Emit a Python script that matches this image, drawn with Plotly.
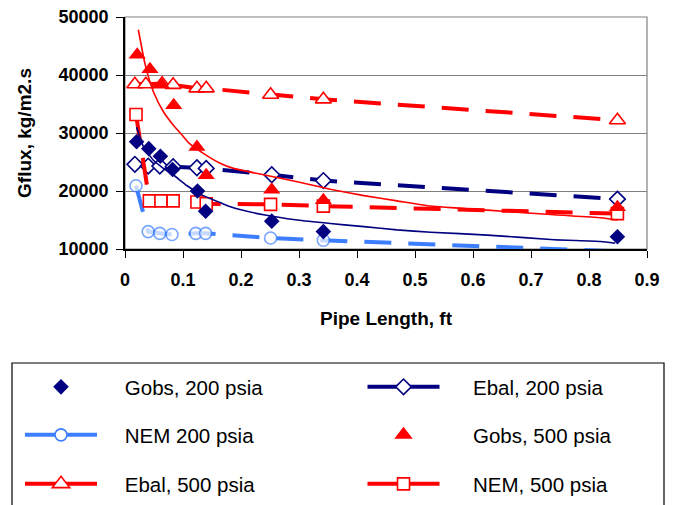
import plotly.graph_objects as go

# ---------------- data ----------------
x_gobs200 = [0.020, 0.041, 0.061, 0.082, 0.125, 0.139, 0.253, 0.342, 0.849]
y_gobs200 = [28500, 27300, 26000, 23700, 20000, 16500, 14800, 13000, 12100]

x_ebal200 = [0.017, 0.040, 0.060, 0.083, 0.124, 0.140, 0.253, 0.342, 0.849]
y_ebal200 = [24600, 24300, 24300, 24200, 24000, 23900, 22800, 21800, 18600]

x_nem200 = [0.019, 0.040, 0.060, 0.081, 0.122, 0.139, 0.251, 0.342, 0.849]
y_nem200 = [20900, 13000, 12700, 12500, 12700, 12700, 11900, 11500, 9600]

x_gobs500 = [0.021, 0.043, 0.063, 0.084, 0.124, 0.140, 0.253, 0.342, 0.849]
y_gobs500 = [43500, 41000, 38300, 34800, 27600, 22700, 20200, 18400, 17200]

x_ebal500 = [0.017, 0.036, 0.064, 0.083, 0.124, 0.140, 0.251, 0.342, 0.849]
y_ebal500 = [38400, 38400, 38500, 38300, 37700, 37700, 36600, 35800, 32200]

x_nem500 = [0.019, 0.042, 0.062, 0.083, 0.124, 0.140, 0.251, 0.342, 0.849]
y_nem500 = [33200, 18300, 18300, 18300, 18100, 17800, 17700, 17400, 16100]

# thin trend curves
x_trend500 = [0.023, 0.035, 0.049, 0.066, 0.083, 0.098, 0.110, 0.135, 0.164, 0.187,
              0.239, 0.297, 0.354, 0.412, 0.469, 0.527, 0.625, 0.740, 0.820, 0.849]
y_trend500 = [47800, 41700, 37100, 33700, 31400, 29700, 28300, 26500, 24800, 23900,
              22800, 21600, 20300, 19200, 18300, 17400, 16700, 15900, 15400, 15000]

x_trend200 = [0.020, 0.032, 0.049, 0.065, 0.083, 0.107, 0.135, 0.164, 0.187, 0.239,
              0.297, 0.354, 0.412, 0.469, 0.527, 0.625, 0.740, 0.820, 0.845]
y_trend200 = [31000, 27600, 25300, 24000, 22800, 20900, 19200, 18000, 17100, 15900,
              15000, 14400, 13850, 13300, 12900, 12400, 11600, 11300, 11000]

x_ticks = [0, 0.1, 0.2, 0.3, 0.4, 0.5, 0.6, 0.7, 0.8, 0.9]
y_ticks = [10000, 20000, 30000, 40000, 50000]

names = ["Gobs, 200 psia", "Ebal, 200 psia", "NEM 200 psia",
         "Gobs, 500 psia", "Ebal, 500 psia", "NEM, 500 psia"]

# ---------------- styles ----------------
NAVY = "#000080"
LBLUE = "#3D7EFF"
RED = "#FF0000"
DASH = "27px,17px"
FONT = "Liberation Sans, Arial, sans-serif"

fig = go.Figure()

# dashed model series
fig.add_trace(go.Scatter(x=x_ebal200, y=y_ebal200, mode="lines+markers", showlegend=False,
                         line=dict(color=NAVY, width=4, dash=DASH),
                         marker=dict(symbol="diamond", size=12, color="white",
                                     line=dict(color=NAVY, width=1.6))))
fig.add_trace(go.Scatter(x=x_nem200, y=y_nem200, mode="lines+markers", showlegend=False,
                         line=dict(color=LBLUE, width=4, dash=DASH),
                         marker=dict(symbol="circle", size=[12] * 8 + [0], color="white",
                                     line=dict(color=LBLUE, width=1.6))))
fig.add_trace(go.Scatter(x=x_ebal500, y=y_ebal500, mode="lines+markers", showlegend=False,
                         line=dict(color=RED, width=4, dash=DASH),
                         marker=dict(symbol="triangle-up", size=14, color="white",
                                     line=dict(color=RED, width=1.6))))
fig.add_trace(go.Scatter(x=x_nem500, y=y_nem500, mode="lines+markers", showlegend=False,
                         line=dict(color=RED, width=4, dash=DASH),
                         marker=dict(symbol="square", size=12, color="white",
                                     line=dict(color=RED, width=1.6))))
# observed
fig.add_trace(go.Scatter(x=x_gobs200, y=y_gobs200, mode="markers", showlegend=False,
                         marker=dict(symbol="diamond", size=12, color=NAVY)))
fig.add_trace(go.Scatter(x=x_gobs500, y=y_gobs500, mode="markers", showlegend=False,
                         marker=dict(symbol="triangle-up", size=15, color=RED)))
# trend curves
fig.add_trace(go.Scatter(x=x_trend200, y=y_trend200, mode="lines", showlegend=False,
                         line=dict(color=NAVY, width=1.6, shape="spline", smoothing=0.5)))
fig.add_trace(go.Scatter(x=x_trend500, y=y_trend500, mode="lines", showlegend=False,
                         line=dict(color=RED, width=1.6, shape="spline", smoothing=0.5)))

L, R, T, B = 125, 33, 17, 256
W, H = 680, 505
pw, ph = W - L - R, H - T - B


def px2x(px):
    return (px - L) / pw


def py2y(py):
    return (H - B - py) / ph


NB = "\u00a0"
# legend entries (solid samples as in the reference legend), one legend box per entry
legend_specs = [
    (names[0], "markers", NAVY, dict(symbol="diamond", size=12, color=NAVY), 0, 387),
    (names[1], "lines+markers", NAVY,
     dict(symbol="diamond", size=12, color="white", line=dict(color=NAVY, width=1.6)), 1, 387),
    (names[2], "lines+markers", LBLUE,
     dict(symbol="circle", size=12, color="white", line=dict(color=LBLUE, width=1.6)), 0, 435),
    (names[3], "markers", RED, dict(symbol="triangle-up", size=16, color=RED), 1, 435),
    (names[4], "lines+markers", RED,
     dict(symbol="triangle-up", size=15, color="white", line=dict(color=RED, width=1.6)), 0, 484),
    (names[5], "lines+markers", RED,
     dict(symbol="square", size=12, color="white", line=dict(color=RED, width=1.6)), 1, 484),
]
col_origin = [20, 362.5]
col_pad = [4, 5]
legend_layouts = {}
for i, (nm, md, col, mk, c, rowy) in enumerate(legend_specs):
    key = "legend" if i == 0 else "legend%d" % (i + 1)
    fig.add_trace(go.Scatter(x=[None], y=[None], mode=md, name=NB * col_pad[c] + nm,
                             legend=key, line=dict(color=col, width=4), marker=mk,
                             showlegend=True))
    legend_layouts[key] = dict(
        x=px2x(col_origin[c]), y=py2y(rowy), orientation="h",
        xanchor="left", yanchor="middle",
        font=dict(family=FONT, size=20.5, color="black"),
        bgcolor="rgba(0,0,0,0)", borderwidth=0, itemwidth=72,
        itemclick=False, itemdoubleclick=False)

fig.update_layout(
    width=W, height=H,
    margin=dict(l=L, r=R, t=T, b=B, autoexpand=False),
    paper_bgcolor="white", plot_bgcolor="white",
    font=dict(family=FONT, color="black"),
    xaxis=dict(range=[0, 0.9], tickvals=x_ticks, ticks="outside", ticklen=7,
               tickcolor="black", showline=True, linecolor="black", linewidth=1.5,
               showgrid=False, zeroline=False, ticklabelstandoff=7,
               tickfont=dict(family=FONT, size=18, weight="bold", color="black"),
               title=dict(text="Pipe Length, ft", standoff=22,
                          font=dict(family=FONT, size=19, weight="bold", color="black"))),
    yaxis=dict(range=[10000, 50000], tickvals=y_ticks, tickformat="d", ticks="outside",
               ticklen=7, tickcolor="black", showline=True, linecolor="black", linewidth=1.5,
               showgrid=True, gridcolor="#808080", gridwidth=1, zeroline=False,
               ticklabelstandoff=4,
               tickfont=dict(family=FONT, size=18, weight="bold", color="black"),
               title=dict(text="Gflux, kg/m2.s", standoff=22,
                          font=dict(family=FONT, size=19, weight="bold", color="black"))),
    shapes=[
        dict(type="rect", xref="paper", yref="paper", x0=0, x1=1, y0=0, y1=1,
             line=dict(color="#808080", width=1.2), layer="below"),
        dict(type="rect", xref="paper", yref="paper",
             x0=px2x(12), x1=px2x(664), y0=py2y(530), y1=py2y(363),
             line=dict(color="black", width=1.2), fillcolor="rgba(0,0,0,0)"),
    ],
    **legend_layouts,
)

fig.write_html("out.html")
